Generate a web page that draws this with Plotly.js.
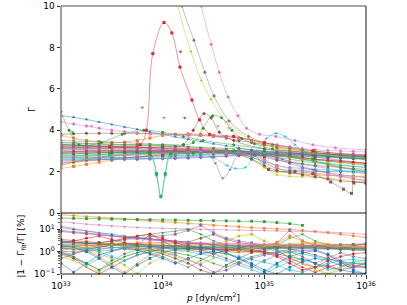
<!DOCTYPE html>
<html><head><meta charset="utf-8">
<script src="https://cdn.plot.ly/plotly-3.0.1.min.js"></script>
<style>html,body{margin:0;padding:0;background:#fff}#chart{width:407px;height:305px}</style>
</head><body><div id="chart"></div>
<script>
// ---------- shared pressure grid (dyn/cm^2) ----------
const P25 = [1e33, 1.33e33, 1.78e33, 2.37e33, 3.16e33, 4.22e33, 5.62e33, 7.5e33, 1e34, 1.33e34, 1.78e34, 2.37e34, 3.16e34, 4.22e34, 5.62e34, 7.5e34, 1e35, 1.33e35, 1.78e35, 2.37e35, 3.16e35, 4.22e35, 5.62e35, 7.5e35, 1e36];

// ---------- top panel: adiabatic index Gamma ----------
const gB1  = [3.1,3.08,3.06,3.04,3.02,3.0,3.0,3.0,3.0,3.0,3.0,2.98,2.96,2.92,2.85,2.7,2.45,2.15,2.05,2.03,2.02,2.0,2.0,1.98,1.97];
const gB2  = [2.15,2.25,2.35,2.45,2.55,2.63,2.7,2.76,2.82,2.87,2.92,2.95,2.97,2.98,2.95,2.85,2.6,2.2,1.95,1.88,1.85,1.82,1.8,1.78,1.77];
const gB3  = [3.2,3.18,3.16,3.13,3.1,3.08,3.05,3.03,3.0,3.0,2.98,2.96,2.93,2.9,2.86,2.82,2.78,2.7,2.6,2.5,2.42,2.35,2.3,2.25,2.2];
const gB4  = [3.3,3.28,3.26,3.24,3.22,3.2,3.18,3.15,3.12,3.1,3.07,3.05,3.03,3.0,2.98,2.96,2.95,2.93,2.91,2.88,2.86,2.83,2.8,2.78,2.75];
const gB5  = [2.5,2.52,2.55,2.57,2.58,2.6,2.6,2.61,2.62,2.63,2.65,2.68,2.7,2.75,2.78,2.8,2.75,2.6,2.4,2.2,2.05,1.95,1.85,1.78,1.7];
const gB6  = [2.3,2.45,2.58,2.68,2.76,2.82,2.86,2.9,2.92,2.94,2.96,2.98,3.0,3.0,2.95,2.85,2.7,2.55,2.45,2.38,2.3,2.25,2.2,2.15,2.1];
const gB7  = [3.4,3.38,3.36,3.34,3.32,3.3,3.27,3.24,3.2,3.17,3.14,3.11,3.08,3.05,3.02,3.0,2.98,2.96,2.94,2.92,2.9,2.88,2.86,2.84,2.82];
const gB8  = [2.9,2.9,2.9,2.92,2.93,2.94,2.95,2.96,2.97,2.98,3.0,3.0,3.0,2.98,2.95,2.9,2.8,2.65,2.5,2.35,2.25,2.15,2.05,1.98,1.9];
const gB9  = [2.7,2.72,2.75,2.78,2.8,2.83,2.86,2.88,2.9,2.92,2.95,2.97,3.0,2.95,2.85,2.6,2.2,1.85,1.78,1.75,1.72,1.68,1.62,1.55,1.5];
const gB10 = [2.6,2.62,2.64,2.66,2.68,2.7,2.72,2.74,2.76,2.78,2.8,2.83,2.86,2.88,2.9,2.88,2.86,2.84,2.82,2.8,2.77,2.74,2.71,2.68,2.65];
const gB11 = [3.3,3.28,3.25,3.22,3.18,3.15,3.12,3.09,3.06,3.03,3.0,2.97,2.94,2.9,2.86,2.82,2.78,2.74,2.7,2.65,2.6,2.55,2.5,2.45,2.4];
const gB12 = [3.75,3.62,3.5,3.45,3.4,3.42,3.5,3.62,3.75,3.8,3.82,3.8,3.75,3.7,3.62,3.5,3.3,3.15,3.0,2.95,2.9,2.85,2.8,2.77,2.75];
const gB13 = [2.8,2.8,2.8,2.82,2.84,2.86,2.88,2.9,2.92,2.95,2.97,3.0,3.0,3.0,2.98,2.95,2.9,2.8,2.7,2.6,2.5,2.35,2.2,2.1,2.0];
const gB14 = [3.15,3.17,3.19,3.2,3.2,3.2,3.19,3.17,3.15,3.13,3.1,3.08,3.05,3.02,3.0,2.95,2.9,2.85,2.8,2.75,2.7,2.62,2.55,2.47,2.4];
const gB15 = [2.55,2.56,2.58,2.6,2.6,2.6,2.61,2.63,2.65,2.67,2.69,2.7,2.72,2.75,2.78,2.8,2.82,2.84,2.85,2.85,2.83,2.8,2.77,2.73,2.7];
const gB16 = [3.8,3.83,3.85,3.85,3.85,3.85,3.85,3.84,3.82,3.8,3.78,3.75,3.7,3.62,3.5,3.4,3.3,3.2,3.1,3.0,2.92,2.85,2.75,2.68,2.6];
const gB17 = [3.1,3.1,3.1,3.08,3.06,3.05,3.04,3.02,3.0,3.0,3.0,3.0,3.0,2.98,2.96,2.93,2.9,2.87,2.85,2.82,2.8,2.75,2.7,2.65,2.6];
const gB18 = [3.5,3.48,3.46,3.44,3.42,3.4,3.37,3.34,3.3,3.25,3.2,3.15,3.1,3.05,3.0,2.95,2.9,2.8,2.7,2.6,2.5,2.35,2.2,2.1,2.0];
const gB19 = [2.4,2.5,2.6,2.68,2.75,2.78,2.8,2.82,2.85,2.87,2.9,2.9,2.9,2.88,2.85,2.6,2.2,1.98,1.95,1.9,1.85,1.82,1.8,1.77,1.75];
const gB20 = [2.75,2.77,2.8,2.82,2.85,2.87,2.9,2.9,2.9,2.92,2.95,2.95,2.95,2.93,2.9,2.7,2.5,2.3,2.2,2.15,2.1,2.08,2.05,2.02,2.0];
const gB21 = [3.0,2.98,2.96,2.95,2.95,2.93,2.92,2.91,2.9,2.9,2.9,2.9,2.9,2.88,2.86,2.84,2.8,2.78,2.75,2.72,2.7,2.68,2.65,2.62,2.6];
const gB22 = [2.9,2.93,2.96,2.98,3.0,3.0,3.02,3.04,3.05,3.05,3.05,3.03,3.0,2.97,2.95,2.9,2.85,2.78,2.7,2.62,2.55,2.5,2.45,2.4,2.35];
const gB23 = [3.4,3.38,3.36,3.34,3.32,3.3,3.3,3.28,3.25,3.22,3.2,3.17,3.15,3.12,3.1,3.05,3.0,2.95,2.9,2.85,2.8,2.75,2.7,2.65,2.6];
const gB24 = [2.95,2.97,3.0,3.0,3.0,3.0,3.0,3.0,3.0,2.98,2.95,2.95,2.95,2.92,2.9,2.88,2.85,2.8,2.75,2.68,2.6,2.55,2.5,2.45,2.4];
const gB25 = [3.25,3.24,3.22,3.2,3.18,3.16,3.14,3.12,3.1,3.08,3.06,3.04,3.02,3.0,2.98,2.96,2.94,2.92,2.9,2.88,2.86,2.84,2.82,2.8,2.78];
const gB26 = [2.85,2.86,2.88,2.9,2.92,2.94,2.95,2.96,2.97,2.98,2.98,2.97,2.95,2.9,2.8,2.6,2.3,2.05,1.95,1.85,1.75,1.65,1.55,1.5,1.45];
const gB27 = [2.65,2.68,2.7,2.72,2.75,2.78,2.8,2.83,2.86,2.89,2.92,2.94,2.95,2.94,2.92,2.8,2.55,2.3,2.15,2.05,1.95,1.85,1.75,1.65,1.6];
const gB28 = [2.68,2.68,2.68,2.68,2.68,2.68,2.68,2.7,2.72,2.74,2.76,2.78,2.8,2.82,2.84,2.85,2.85,2.84,2.82,2.8,2.78,2.76,2.74,2.72,2.7];
const gBlueHigh = [4.7,4.62,4.52,4.4,4.28,4.16,4.04,3.92,3.8,3.68,3.56,3.45,3.35,3.25,3.15,3.05,2.97,2.9,2.85,2.8,2.76,2.72,2.69,2.66,2.63];
const gPinkHigh = [4.4,4.3,4.2,4.1,4.0,3.93,3.87,3.82,3.8,3.78,3.77,3.75,3.72,3.68,3.6,3.5,3.4,3.3,3.2,3.12,3.06,3.02,3.0,2.97,2.95];

const pRedPeak = [1e33, 3e33, 6e33, 6.9e33, 8e33, 1.03e34, 1.23e34, 1.48e34, 1.94e34, 2.3e34, 2.9e34, 5e34, 1e35, 3e35, 1e36];
const gRedPeak = [3.2, 3.2, 3.3, 4.0, 7.7, 9.2, 8.7, 7.05, 5.46, 4.5, 3.8, 3.7, 3.4, 3.0, 2.75];
const pDip = [1e33, 3e33, 7.5e33, 8.7e33, 9.6e33, 1.06e34, 1.2e34, 2e34, 5e34, 1e35, 3e35, 1e36];
const gCyanDip  = [2.75, 2.75, 2.7, 1.8, 0.75, 1.8, 2.7, 2.8, 2.9, 2.9, 2.5, 2.2];
const gGreenDip = [2.9, 2.9, 2.85, 1.9, 0.8, 1.9, 2.85, 2.9, 3.0, 2.9, 2.6, 2.3];
const pPurpleDip = [1e33, 1e34, 2.5e34, 3.3e34, 3.9e34, 4.6e34, 5.5e34, 8e34, 1.5e35, 3e35, 1e36];
const gPurpleDip = [3.0, 3.0, 3.0, 2.4, 1.68, 2.1, 2.8, 2.95, 2.6, 2.1, 1.55];
const pCyanBump = [1e33, 1e34, 3e34, 4.3e34, 5.2e34, 6.5e34, 8.5e34, 1.05e35, 1.3e35, 1.6e35, 2e35, 2.5e35, 4e35, 1e36];
const gCyanBump = [2.6, 2.65, 2.7, 2.3, 2.15, 2.2, 3.0, 3.6, 3.85, 3.7, 3.3, 2.95, 2.8, 2.7];
const pBrownBump = [1e33, 1e34, 1.6e34, 2e34, 2.55e34, 3e34, 3.6e34, 5e34, 1e35, 3e35, 1e36];
const gBrownBump = [3.1, 3.2, 3.3, 4.0, 4.8, 4.6, 3.9, 3.5, 3.1, 2.8, 2.6];
const pGreenBump = [1e33, 1e34, 2e34, 2.5e34, 3.1e34, 3.8e34, 4.8e34, 6e34, 8e34, 1.2e35, 3e35, 1e36];
const gGreenBump = [3.3, 3.3, 3.4, 4.1, 4.7, 4.6, 4.0, 3.6, 3.35, 3.1, 2.9, 2.7];
const pGreenHump = [1e33, 1.2e33, 1.5e33, 2.5e33, 4e33, 6.5e33, 1e34, 1.6e34, 2.5e34, 5e34, 1e35, 3e35, 1e36];
const gGreenHump = [4.9, 4.0, 3.3, 3.4, 3.8, 4.0, 3.9, 3.7, 3.5, 3.3, 3.1, 2.9, 2.7];
const pGrayTop = [1.2e34, 1.55e34, 2.03e34, 2.6e34, 3.2e34, 4.5e34, 7e34, 1.2e35, 3e35, 1e36];
const gGrayTop = [13.0, 10.0, 8.35, 6.8, 5.65, 4.45, 3.7, 3.3, 3.0, 2.8];
const pOliveTop = [1.15e34, 1.41e34, 1.9e34, 2.4e34, 2.99e34, 4.2e34, 7e34, 1.2e35, 3e35, 1e36];
const gOliveTop = [12.5, 10.0, 7.8, 6.4, 5.5, 4.4, 3.6, 3.25, 2.9, 2.6];
const pPinkTop = [1.9e34, 2.4e34, 3e34, 3.6e34, 4.4e34, 5.5e34, 6.7e34, 9e34, 1.3e35, 2e35, 3e35, 5e35, 1e36];
const gPinkTop = [13.0, 10.0, 8.15, 6.8, 5.6, 4.7, 4.1, 3.8, 3.7, 3.5, 3.3, 3.15, 3.05];
const pBrownDrop = [1e33, 1e34, 5e34, 8e34, 1.1e35, 2e35, 3e35, 4.5e35, 6e35, 7.2e35, 7.6e35, 1e36];
const gBrownDrop = [2.4, 2.8, 2.95, 2.8, 2.1, 2.0, 1.9, 1.5, 1.15, 0.95, 1.45, 1.45];
const pOutlier = [6.3e33, 1.65e34, 1.03e34, 2e33, 1.3e33, 4.5e34, 1.5e34, 3.5e34];
const gOutlier = [5.1, 4.6, 4.6, 4.2, 3.9, 4.1, 7.8, 4.2];

// ---------- bottom panel: relative fit error |1 - Gamma_fit/Gamma| [%] ----------
const e1  = [45,41,37,34,31,28,26,24,22,20,18,16.5,15,14,13,12,11,10.5,10,9,8,7,6,5,4.4];
const e2  = [32,31,30,29,28.5,28,27.5,27,26.5,26,25.5,25,24.5,24,23.5,23,22,20,18,15,null,null,null,null,null];
const e3  = [22,19,17,15.5,14,13,12,11.5,11,10.5,10,9.8,9.6,9.4,9.2,9,8.8,8.6,8.4,8.2,8,7.5,7,6.5,6];
const e4  = [12,10,8.5,7,6,5,4.2,3.6,3.2,2.8,2.5,2.3,2.1,2,1.9,1.8,1.7,1.6,1.55,1.5,1.45,1.4,1.4,1.35,1.3];
const e5  = [8,7,6.2,5.5,5,4.6,4.2,3.8,3.4,3,2.7,4,6,3.5,2.5,2.2,2,1.9,1.8,1.75,1.7,1.65,1.6,1.6,1.55];
const e6  = [2.5,3,4,5,3.5,2.5,1.8,6,3,1.5,1.2,1,0.8,1.1,1.5,2,1.8,1.2,0.5,0.3,0.2,0.25,0.15,0.2,0.3];
const e7  = [1.5,1.8,2.2,2.6,3,3.5,4,4.5,5,6,9,15,7,4,3,2.5,2,2.5,9,3,2,1.5,1.3,1.2,1.3];
const e8  = [2,1.8,1.5,1.8,2.5,3.5,5,6,7,8,10,6,3,2,1.6,1.2,1,2,4,6,3,2,1.6,1.5,1.4];
const e9  = [1.2,0.6,0.25,0.5,1,1.5,2,1.8,1.5,1.2,1,0.8,0.6,0.4,0.25,0.15,0.1,0.2,0.35,0.5,0.3,0.15,0.2,0.35,0.4];
const e10 = [0.8,0.5,0.3,0.15,0.4,0.8,1.2,1.6,2,1.8,1.5,1.2,0.8,0.5,0.3,0.2,0.4,0.7,1,0.6,0.3,0.5,0.9,0.6,0.5];
const e11 = [1.5,1.3,1.1,0.8,0.5,0.25,0.1,0.3,0.6,0.9,1.2,1.5,2,3,5,6,3,1.5,0.8,0.4,0.2,0.1,0.15,0.3,0.25];
const e12 = [3,2.7,2.4,2.2,2,1.8,1.7,1.6,1.5,1.4,1.35,1.3,1.25,1.2,1.15,1.1,1,0.8,0.6,0.45,0.3,0.2,0.15,0.12,0.1];
const e13 = [2,1.6,1.1,0.6,0.25,0.12,0.3,0.7,1,1.4,1.6,1.4,1.2,1,0.9,1,1.3,1.6,2,2.2,2.5,2.2,2,1.8,1.7];
const e14 = [1,0.5,0.2,0.1,0.2,0.4,0.7,1,1.4,1.8,2.2,2.5,2,1.6,1.3,1.1,1,0.7,0.4,0.2,0.12,0.2,0.3,0.25,0.2];
const e15 = [2.5,2.4,2.3,2.2,2.1,2,1.9,1.8,1.75,1.7,1.65,1.6,1.55,1.5,1.5,1.45,1.4,1.4,1.35,1.35,1.3,1.3,1.25,1.25,1.2];
const e16 = [0.5,0.8,1.2,1.6,2,1.7,1.4,1.1,0.8,0.5,0.3,0.15,0.1,0.25,0.5,0.9,1.3,1.6,1.3,1,0.7,0.5,0.35,0.3,0.3];
const e17 = [1.8,1.9,2,2.1,2.2,2.3,2.4,2.5,2.5,2.45,2.4,2.35,2.3,2.25,2.2,2.15,2.1,2.05,2,1.95,1.9,1.8,1.7,1.6,1.5];
const e18 = [2.2,2.1,2,1.8,1.6,1.4,1.2,0.9,0.6,0.35,0.2,0.4,0.8,1.2,1.5,1.8,2,2.1,2,1.9,1.8,1.7,1.6,1.5,1.4];
const e19 = [0.6,0.4,0.2,0.12,0.3,0.6,0.9,1.2,1.5,1.7,1.9,2,2,2,1.9,1.8,1.5,1,0.6,0.3,0.15,0.1,0.2,0.3,0.3];
const e20 = [2,1.7,1.4,1,0.6,0.4,0.7,1,1.3,1.5,1.4,1.2,1,0.8,0.6,0.45,0.35,0.25,0.15,0.12,0.2,0.3,0.4,0.45,0.4];
const e21 = [0.3,0.12,0.3,0.7,1.1,1.5,1.2,0.8,0.5,0.3,0.5,0.8,1,0.8,0.5,0.3,0.15,0.1,0.2,0.35,0.5,0.4,0.25,0.2,0.2];
const e22 = [1.6,1.7,1.8,1.9,2,2.2,2.4,2.5,2.4,2.3,2.2,2.1,2,1.9,1.8,1.75,1.7,2.5,5,3,2,1.8,1.7,1.65,1.6];
const e23 = [0.9,0.6,0.3,0.15,0.3,0.6,0.9,1.2,1.1,0.9,0.7,0.5,0.3,0.2,0.35,0.6,0.8,1,1.2,1.4,1.5,1.4,1.3,1.2,1.1];
const e24 = [1.4,1.3,1.3,1.6,2,2.5,2.2,2,1.8,1.7,1.6,1.5,1.4,1.35,1.3,1.4,1.5,1.7,1.9,2,1.8,1.6,1.4,1.8,2.2];
const e25 = [0.7,0.9,1.1,1.3,1.5,1.6,1.5,1.3,1,0.7,0.45,0.25,0.12,0.15,0.3,0.5,0.7,0.9,1,1.1,1.2,0.8,0.4,0.2,0.3];
const e26 = [1.3,1.35,1.4,1.45,1.5,1.55,1.6,1.65,1.7,1.7,1.65,1.6,1.55,1.5,1.45,1.4,1.3,1.2,1,0.8,0.6,0.45,0.35,0.3,0.25];
const e27 = [2.8,2.6,2.4,2.2,2,1.85,1.7,1.6,1.5,1.4,1.35,1.3,1.25,1.2,1.25,1.3,1.4,1.5,1.6,1.7,1.8,1.9,2,2.1,2.2];
const e28 = [1,1.05,1.1,1.15,1.2,1.25,1.3,1.35,1.4,1.45,1.5,1.55,1.6,1.65,1.7,1.75,1.8,1.85,1.9,1.95,2,2.05,2.1,2.15,2.2];
const e29 = [14,11,8.5,6.5,5,4,3.5,3.2,3,2.8,2.6,2.5,2.4,2.3,2.2,2.1,2,1.95,1.9,1.85,1.8,1.8,1.75,1.75,1.7];
const e30 = [9,8,7,6,5,4.5,4,3.5,3,2.6,2.3,2.1,2,1.9,1.8,1.7,1.6,1.55,1.5,1.5,1.45,1.45,1.4,1.4,1.4];
const e31 = [3.5,3.2,2.8,2.5,3,4,5,6,4,2.5,1.8,1.5,1.3,1.2,1.1,1,0.9,0.6,0.3,0.15,0.2,0.4,0.6,0.8,0.9];
const e32 = [1.8,1.5,1,0.5,0.2,0.1,0.25,0.5,0.9,1.2,1.4,1.5,1.3,0.9,0.5,0.25,0.12,0.3,0.6,0.9,1.1,0.7,0.35,0.15,0.1];
const e33 = [2.6,2.5,2.4,2.3,2.2,2.1,2,1.9,1.85,1.8,1.75,1.7,1.65,1.6,1.6,1.55,1.55,1.5,1.5,1.5,1.45,1.45,1.45,1.4,1.4];
const e34 = [1.2,1.4,1.6,1.8,2,1.8,1.5,1.2,0.9,0.6,0.4,0.3,0.5,0.8,1.1,1.4,1.7,2,2.3,2.5,2.2,1.9,1.7,1.6,1.5];

const tickP = [1e33, 1e34, 1e35, 1e36];
const tickPText = ['10<sup>33</sup>', '10<sup>34</sup>', '10<sup>35</sup>', '10<sup>36</sup>'];
const tickErr = [0.1, 1, 10];
const tickErrText = ['10<sup>−1</sup>', '10<sup>0</sup>', '10<sup>1</sup>'];
const tickGamma = [0, 2, 4, 6, 8, 10];

// ---------- styling ----------
const PAL = ['#1f77b4', '#ff7f0e', '#2ca02c', '#d62728', '#9467bd', '#8c564b', '#e377c2', '#7f7f7f', '#bcbd22', '#17becf'];
const SYM = ['circle', 'square', 'triangle-down', 'triangle-up', 'diamond'];
function rgba(hex, a) {
  const n = parseInt(hex.slice(1), 16);
  return 'rgba(' + (n >> 16) + ',' + ((n >> 8) & 255) + ',' + (n & 255) + ',' + a + ')';
}

const topBundle = [gB1, gB2, gB3, gB4, gB5, gB6, gB7, gB8, gB9, gB10, gB11, gB12, gB13, gB14,
  gB15, gB16, gB17, gB18, gB19, gB20, gB21, gB22, gB23, gB24, gB25, gB26, gB27, gB28];
const topSeries = [];
topBundle.forEach(function (g, i) { topSeries.push([P25, g, i % 10]); });
topSeries.push([P25, gBlueHigh, 0], [P25, gPinkHigh, 6],
  [pGreenHump, gGreenHump, 2], [pBrownDrop, gBrownDrop, 5],
  [pPurpleDip, gPurpleDip, 4], [pCyanBump, gCyanBump, 9],
  [pBrownBump, gBrownBump, 5], [pGreenBump, gGreenBump, 2],
  [pDip, gGreenDip, 2], [pDip, gCyanDip, 9],
  [pOliveTop, gOliveTop, 8], [pGrayTop, gGrayTop, 7], [pPinkTop, gPinkTop, 6],
  [pRedPeak, gRedPeak, 3]);
const outlierColors = [2, 2, 6, 6, 2, 6, 3, 6];

const botSeries = [e1, e2, e3, e4, e5, e6, e7, e8, e9, e10, e11, e12, e13, e14, e15, e16, e17,
  e18, e19, e20, e21, e22, e23, e24, e25, e26, e27, e28, e29, e30, e31, e32, e33, e34];
const botColors = [1, 2, 6, 0, 5, 3, 4, 2, 9, 7, 8, 0, 1, 3, 4, 5, 6, 7, 8, 9, 0, 1, 2, 3, 4, 9, 5, 7, 6, 4, 3, 0, 2, 8];

const traces = [];
topSeries.forEach(function (s, i) {
  const c = PAL[s[2]];
  traces.push({
    x: s[0], y: s[1], xaxis: 'x2', yaxis: 'y', type: 'scatter', mode: 'lines+markers',
    line: {color: rgba(c, 0.6), width: 0.8, shape: 'spline', smoothing: 1},
    marker: {color: c, size: 3, symbol: SYM[i % SYM.length]},
    showlegend: false, hoverinfo: 'skip'
  });
});
traces.push({
  x: pOutlier, y: gOutlier, xaxis: 'x2', yaxis: 'y', type: 'scatter', mode: 'markers',
  marker: {color: outlierColors.map(function (k) { return PAL[k]; }), size: 3.2, symbol: 'triangle-down'},
  showlegend: false, hoverinfo: 'skip'
});
botSeries.forEach(function (s, i) {
  const c = PAL[botColors[i]];
  traces.push({
    x: P25, y: s, xaxis: 'x', yaxis: 'y2', type: 'scatter', mode: 'lines+markers',
    line: {color: rgba(c, 0.7), width: 0.8},
    marker: {color: c, size: 2.8, symbol: SYM[i % SYM.length]},
    showlegend: false, hoverinfo: 'skip', connectgaps: false
  });
});

const minorP = [];
[33, 34, 35].forEach(function (d) { for (let m = 2; m <= 9; m++) minorP.push(m * Math.pow(10, d)); });
const minorErr = [];
[-1, 0, 1].forEach(function (d) { for (let m = 2; m <= 9; m++) minorErr.push(m * Math.pow(10, d)); });

const F = {family: 'DejaVu Sans, sans-serif', size: 9, color: '#000'};
const split = 61 / 268;
const layout = {
  width: 407, height: 305,
  margin: {l: 61, r: 41, t: 6, b: 31},
  paper_bgcolor: '#fff', plot_bgcolor: '#fff',
  font: F, showlegend: false,
  xaxis: {
    type: 'log', range: [33, 36], anchor: 'y2', domain: [0, 1],
    tickvals: tickP, ticktext: tickPText, ticks: 'outside', ticklen: 3.5, tickwidth: 0.8, tickcolor: '#000',
    showgrid: false, zeroline: false, showline: false, tickfont: F,
    minor: {tickvals: minorP, ticks: 'outside', ticklen: 2, tickwidth: 0.6, tickcolor: '#000', showgrid: false}
  },
  xaxis2: {
    type: 'log', range: [33, 36], anchor: 'y', matches: 'x', domain: [0, 1],
    showticklabels: false, ticks: '', showgrid: false, zeroline: false, showline: false
  },
  yaxis: {
    domain: [split, 1], range: [0, 10], tickvals: tickGamma, ticks: 'outside', ticklen: 3.5, tickwidth: 0.8,
    tickcolor: '#000', showgrid: false, zeroline: false, showline: false, tickfont: F
  },
  yaxis2: {
    domain: [0, split], type: 'log', range: [-1, 1.73], tickvals: tickErr, ticktext: tickErrText,
    ticks: 'outside', ticklen: 3.5, tickwidth: 0.8, tickcolor: '#000', showgrid: false, zeroline: false,
    showline: false, tickfont: F,
    minor: {tickvals: minorErr, ticks: 'outside', ticklen: 2, tickwidth: 0.6, tickcolor: '#000', showgrid: false}
  },
  shapes: [
    {type: 'line', xref: 'paper', yref: 'paper', x0: 0, x1: 1, y0: 1, y1: 1, line: {color: '#888', width: 1.4}, layer: 'above'},
    {type: 'line', xref: 'paper', yref: 'paper', x0: 0, x1: 0, y0: split, y1: 1, line: {color: '#888', width: 1.6}, layer: 'above'},
    {type: 'line', xref: 'paper', yref: 'paper', x0: 1, x1: 1, y0: 0, y1: 1, line: {color: '#000', width: 0.9}, layer: 'above'},
    {type: 'line', xref: 'paper', yref: 'paper', x0: 0, x1: 1, y0: split, y1: split, line: {color: '#000', width: 0.9}, layer: 'above'},
    {type: 'line', xref: 'paper', yref: 'paper', x0: 0, x1: 1, y0: 0, y1: 0, line: {color: '#000', width: 0.9}, layer: 'above'},
    {type: 'line', xref: 'paper', yref: 'paper', x0: 0, x1: 0, y0: 0, y1: split, line: {color: '#000', width: 0.9}, layer: 'above'}
  ],
  annotations: [
    {text: 'Γ', xref: 'paper', yref: 'paper', x: -0.095, y: 0.612, showarrow: false, textangle: -90,
     xanchor: 'center', yanchor: 'middle', font: {family: 'DejaVu Sans, sans-serif', size: 9, color: '#000'}},
    {text: '|1 − Γ<sub>fit</sub>/Γ| [%]', xref: 'paper', yref: 'paper', x: -0.128, y: 0.105, showarrow: false,
     textangle: -90, xanchor: 'center', yanchor: 'middle', font: {family: 'DejaVu Sans, sans-serif', size: 9, color: '#000'}},
    {text: '<i>p</i> [dyn/cm<sup>2</sup>]', xref: 'paper', yref: 'paper', x: 0.498, y: -0.086, showarrow: false,
     xanchor: 'center', yanchor: 'middle', font: {family: 'DejaVu Sans, sans-serif', size: 9, color: '#000'}}
  ]
};

Plotly.newPlot('chart', traces, layout, {staticPlot: true, displayModeBar: false});
</script>
</body></html>
